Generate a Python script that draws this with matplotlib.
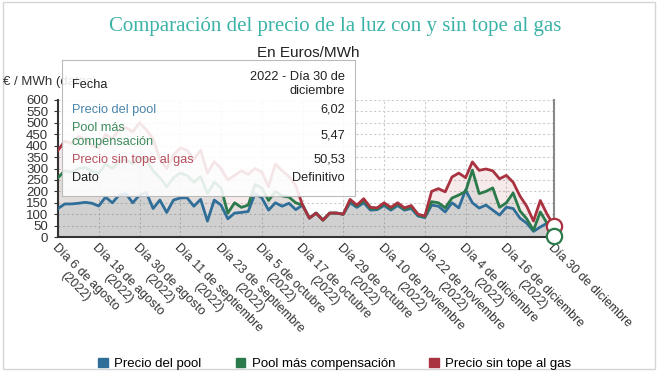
import numpy as np
import pandas as pd
import matplotlib
matplotlib.use('Agg')
import matplotlib.pyplot as plt
import matplotlib.patches as mpatches
from matplotlib.patches import Rectangle

plt.rcParams['font.family'] = ['Liberation Sans', 'DejaVu Sans']

# fechas cada 2 dias, 6 ago - 30 dic 2022
fechas = pd.date_range('2022-08-06', '2022-12-30', freq='2D')

precio_pool = [125, 145, 145, 148, 152, 148, 136, 175, 150, 184,
               190, 150, 184, 195, 125, 162, 108, 162, 171, 172,
               135, 165, 70, 162, 140, 80, 105, 108, 112, 190,
               172, 118, 150, 135, 148, 120, 140, 83, 105, 74,
               105, 105, 100, 150, 130, 150, 118, 120, 138, 118,
               138, 118, 125, 92, 85, 140, 135, 110, 150, 128,
               206, 150, 127, 140, 118, 96, 131, 125, 83, 61,
               25, 44, 61, 6.02]

pool_compensacion = [260, 290, 285, 300, 305, 290, 280, 320, 300, 330,
                     340, 320, 350, 340, 290, 260, 220, 260, 280, 270,
                     240, 265, 190, 240, 215, 105, 150, 130, 140, 230,
                     215, 160, 200, 180, 175, 150, 140, 83, 105, 74,
                     105, 105, 100, 160, 136, 160, 125, 124, 146, 124,
                     146, 122, 133, 97, 88, 155, 150, 128, 171, 184,
                     200, 293, 190, 200, 215, 130, 150, 193, 115, 80,
                     30, 110, 60, 5.47]

precio_sin_tope = [380, 420, 410, 440, 430, 400, 390, 450, 430, 470,
                   480, 460, 500, 470, 430, 340, 300, 360, 390, 380,
                   340, 380, 280, 330, 300, 250, 270, 290, 275, 300,
                   285, 220, 320, 290, 265, 225, 140, 83, 105, 74,
                   105, 105, 100, 165, 140, 168, 130, 128, 150, 130,
                   150, 128, 138, 100, 92, 200, 212, 198, 263, 280,
                   260, 329, 292, 298, 290, 255, 270, 240, 180, 135,
                   70, 160, 100, 50.53]

series = [('Precio del pool', precio_pool, '#2f6e99'),
          ('Pool más compensación', pool_compensacion, '#2b7a4b'),
          ('Precio sin tope al gas', precio_sin_tope, '#a93240')]

ticks = list(pd.date_range('2022-08-06', '2022-12-16', freq='12D')) + [pd.Timestamp('2022-12-30')]
meses = {8: 'agosto', 9: 'septiembre', 10: 'octubre', 11: 'noviembre', 12: 'diciembre'}
tick_labels = ['Día %d de %s\n(2022)' % (t.day, meses[t.month]) for t in ticks[:-1]]
tick_labels.append('Día 30 de diciembre')

W, H = 659, 371
def fx(x):
    return x / W
def fy(y):
    return 1 - y / H

fig = plt.figure(figsize=(6.59, 3.71), dpi=100)
ax = fig.add_axes([0.088, 0.361, 0.7525, 0.3695], zorder=0)

for nombre, valores, color in series:
    ax.fill_between(fechas, valores, 0, color=color, alpha=0.1, lw=0)
for nombre, valores, color in series:
    ax.plot(fechas, valores, color=color, lw=2.0, zorder=3)

# marcadores finales (hover)
ax.plot(fechas[-1], precio_sin_tope[-1], 'o', ms=11, mfc='white', mec='#a93240', mew=1.6, zorder=5, clip_on=False)
ax.plot(fechas[-1], pool_compensacion[-1], 'o', ms=11, mfc='white', mec='#2b7a4b', mew=1.6, zorder=5, clip_on=False)

ax.set_xlim(fechas[0], fechas[-1])
ax.set_ylim(0, 600)
ax.set_yticks(range(0, 601, 50))
ax.set_xticks(ticks)
ax.set_xticklabels(tick_labels, rotation=-45, ha='left', va='top',
                   rotation_mode='anchor', multialignment='center', fontsize=9, color='#333333')
ax.tick_params(axis='y', labelsize=9.5, length=3, color='#333333', labelcolor='#333333', pad=4)
ax.tick_params(axis='x', length=0, pad=3)
ax.grid(True, color='#cccccc', ls=(0, (2, 2)), lw=0.8)
ax.set_axisbelow(True)
ax.spines['top'].set_visible(False)
ax.spines['left'].set_color('#333333')
ax.spines['left'].set_linewidth(1.5)
ax.spines['bottom'].set_color('#333333')
ax.spines['bottom'].set_linestyle((0, (2, 1)))
ax.spines['bottom'].set_linewidth(1.5)
ax.spines['right'].set_color('#888888')
ax.spines['right'].set_linewidth(1.5)

fig.text(0.508, 1 - 27 / 371, 'Comparación del precio de la luz con y sin tope al gas',
         family='Liberation Serif', fontsize=15, color='#3cb3a8', ha='center', va='center')
fig.text(0.467, 1 - 53 / 371, 'En Euros/MWh', fontsize=11, color='#222222', ha='center', va='center')
fig.text(fx(3), fy(82), '€ / MWh (datos)', fontsize=9.5, color='#333333', ha='left', va='center')

# tooltip como eje propio encima del grafico
tt = fig.add_axes([fx(62), fy(196), fx(355) - fx(62), fy(60) - fy(196)], zorder=5)
tt.set_xticks([])
tt.set_yticks([])
tt.patch.set_facecolor('white')
tt.patch.set_alpha(0.88)
for s in tt.spines.values():
    s.set_color('#bbbbbb')
    s.set_linewidth(0.8)

tf = fig.transFigure
filas = [('Fecha', '#222222', 85), ('Precio del pool', '#4a84a8', 110),
         ('Pool más\ncompensación', '#3e8a5c', 135), ('Precio sin tope al gas', '#b5505e', 160),
         ('Dato', '#222222', 178)]
valores_tt = ['2022 - Día 30 de\ndiciembre', '6,02', '5,47', '50,53', 'Definitivo']
for (txt, col, y), val in zip(filas, valores_tt):
    tt.text(fx(72), fy(y), txt, color=col, fontsize=9.2, ha='left', va='center',
            linespacing=1.15, transform=tf, clip_on=False)
    yv = 84 if val.startswith('2022') else y
    tt.text(fx(345), fy(yv), val, color='#222222', fontsize=9.2, ha='right', va='center',
            multialignment='right', linespacing=1.15, transform=tf, clip_on=False)

# marco exterior
fig.add_artist(Rectangle((0.004, 0.006), 0.99, 0.988, transform=fig.transFigure,
                         fill=False, edgecolor='#d5d5d5', lw=1))

handles = [mpatches.Patch(color=c, label=n) for n, v, c in series]
fig.legend(handles=handles, loc='center', bbox_to_anchor=(0.508, 1 - 364 / 371), ncol=3,
           frameon=False, fontsize=9.5, handlelength=0.7, handleheight=0.7,
           handletextpad=0.5, columnspacing=2.6)

fig.savefig('out.png', dpi=100)
